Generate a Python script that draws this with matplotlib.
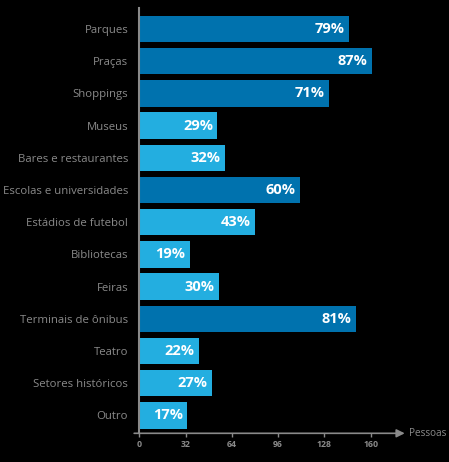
import matplotlib
matplotlib.use("Agg")
import matplotlib.pyplot as plt

# data
places = ["Parques", "Praças", "Shoppings", "Museus", "Bares e restaurantes",
          "Escolas e universidades", "Estádios de futebol", "Bibliotecas", "Feiras",
          "Terminais de ônibus", "Teatro", "Setores históricos", "Outro"]
people = [145, 161, 131, 54, 59, 111, 80, 35, 55, 150, 41, 50, 33]
percent = [79, 87, 71, 29, 32, 60, 43, 19, 30, 81, 22, 27, 17]
ticks = [0, 32, 64, 96, 128, 160]

DARK = "#0072ae"
LIGHT = "#23aee0"
GREY = "#8a8a8a"

plt.rcParams["font.family"] = ["Open Sans", "DejaVu Sans"]

W, H = 449, 462
fig = plt.figure(figsize=(W / 100, H / 100), dpi=100, facecolor="black")
left, right, top, bottom = 139.3, 397, 8, 433.3
ax = fig.add_axes([left / W, 1 - bottom / H, (right - left) / W, (bottom - top) / H])
ax.set_facecolor("black")

ypos = list(range(len(places)))
colors = [DARK if p >= 50 else LIGHT for p in percent]
ax.barh(ypos, people, height=0.82, color=colors)

for y, v, p in zip(ypos, people, percent):
    ax.text(v - 3, y, f"{p}%", color="white", fontsize=10.5, fontweight="bold",
            ha="right", va="center")

ax.set_xlim(0, (right - left) / 1.446)
ax.set_ylim(len(places) - 1 + 0.553, -0.652)

ax.set_yticks(ypos)
ax.set_yticklabels(places, color=GREY, fontsize=8.2)
ax.tick_params(axis="y", length=0, pad=8)
ax.set_xticks(ticks)
ax.set_xticklabels([str(t) for t in ticks], color=GREY, fontsize=6.3, fontweight="bold")
ax.tick_params(axis="x", length=3, width=1, color=GREY, pad=2)

for s in ("top", "right", "bottom"):
    ax.spines[s].set_visible(False)
ax.spines["left"].set_color(GREY)
ax.spines["left"].set_linewidth(1.5)

# x axis with arrow
ax.annotate("", xy=(1.03, 0), xytext=(-0.02, 0), xycoords="axes fraction",
            arrowprops=dict(arrowstyle="-|>", color=GREY, lw=1.2, mutation_scale=12,
                            shrinkA=0, shrinkB=0), annotation_clip=False)
ax.text(1.045, 0, "Pessoas", transform=ax.transAxes, color=GREY, fontsize=7.2,
        ha="left", va="center")

fig.savefig("out.png", dpi=100, facecolor="black")
